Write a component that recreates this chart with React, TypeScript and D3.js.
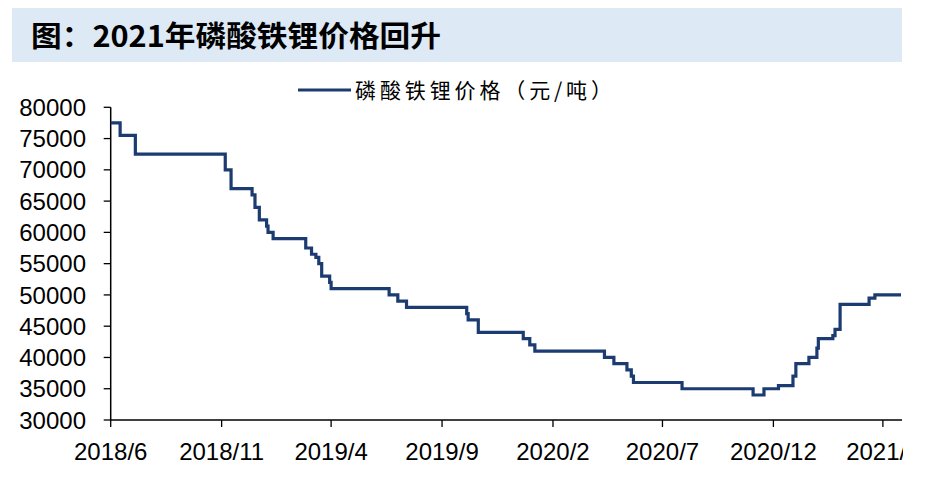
import React from "react";
import * as d3 from "d3";

const title = "图：2021年磷酸铁锂价格回升";
const seriesName = "磷酸铁锂价格（元/吨）";

const dates: string[] = [
  "2018-06-01", "2018-06-14", "2018-07-05", "2018-11-06", "2018-11-14",
  "2018-12-13", "2018-12-17", "2018-12-23", "2019-01-02", "2019-01-04",
  "2019-01-11", "2019-02-25", "2019-03-05", "2019-03-11", "2019-03-15",
  "2019-03-19", "2019-03-30", "2019-04-01", "2019-06-20", "2019-07-02",
  "2019-07-14", "2019-10-05", "2019-10-07", "2019-10-21", "2019-12-22",
  "2019-12-31", "2020-01-07", "2020-04-12", "2020-04-25", "2020-05-13",
  "2020-05-19", "2020-05-22", "2020-07-28", "2020-11-03", "2020-11-18",
  "2020-12-08", "2020-12-28", "2021-01-01", "2021-01-19", "2021-01-30",
  "2021-02-01", "2021-02-21", "2021-02-24", "2021-03-03", "2021-04-12",
  "2021-04-20", "2021-05-26",
];
const prices: number[] = [
  77500, 75500, 72500, 70000, 67000,
  66000, 64000, 62000, 61000, 60000,
  59000, 57500, 56500, 56000, 55000,
  53000, 52000, 51000, 50000, 49000,
  48000, 47000, 46000, 44000, 43000,
  42000, 41000, 40000, 39000, 38000,
  37000, 36000, 35000, 34000, 35000,
  35500, 37000, 39000, 40000, 41500,
  43000, 43500, 44500, 48500, 49500,
  50000, 50000,
];

const yTicks: number[] = [30000, 35000, 40000, 45000, 50000, 55000, 60000, 65000, 70000, 75000, 80000];
const xTickDates: string[] = ["2018-06-01", "2018-11-01", "2019-04-01", "2019-09-01", "2020-02-01", "2020-07-01", "2020-12-01", "2021-05-01"];
const xTickLabels: string[] = ["2018/6", "2018/11", "2019/4", "2019/9", "2020/2", "2020/7", "2020/12", "2021/5"];

const parse = d3.timeParse("%Y-%m-%d");

export default function App() {
  const W = 926, H = 494;
  const left = 110.7, right = 901, top = 107.3, bottom = 420;
  const x = d3.scaleTime()
    .domain([parse("2018-06-01") as Date, parse("2021-05-26") as Date])
    .range([left, right]);
  const y = d3.scaleLinear().domain([30000, 80000]).range([bottom, top]);
  const data = dates.map((d, i) => ({ d: parse(d) as Date, v: prices[i] }));
  const line = d3.line<{ d: Date; v: number }>()
    .x((p) => x(p.d))
    .y((p) => y(p.v))
    .curve(d3.curveStepAfter);
  const font = "'Liberation Sans', Arial, sans-serif";
  const cjk = "'Noto Sans CJK SC', sans-serif";
  const lineColor = "#1c3b70";

  return (
    <div style={{ position: "absolute", left: 0, top: 0 }}>
      <svg width={W} height={H} style={{ display: "block", background: "#fff" }}>
        <defs>
          <clipPath id="xclip">
            <rect x={0} y={0} width={903} height={H} />
          </clipPath>
        </defs>
        <rect x={12} y={8} width={890} height={54} fill="#dde9f5" />
        <text x={31} y={47} fontFamily={cjk} fontWeight={700} fontSize={29} fill="#000"
          textLength={410} lengthAdjust="spacingAndGlyphs">{title}</text>

        <line x1={298} x2={351} y1={90} y2={90} stroke={lineColor} strokeWidth={3} />
        <text x={355} y={97.5} fontFamily={cjk} fontSize={21} fill="#000"
          textLength={257} lengthAdjust="spacing">{seriesName}</text>

        {yTicks.map((t) => (
          <g key={t}>
            <line x1={left - 7} x2={left} y1={y(t)} y2={y(t)} stroke="#000" strokeWidth={1.3} />
            <text x={86} y={y(t)} dy="0.36em" textAnchor="end" fontFamily={font} fontSize={24} fill="#000">{t}</text>
          </g>
        ))}
        <line x1={left} x2={left} y1={top} y2={bottom} stroke="#000" strokeWidth={1.5} />
        <line x1={left} x2={right + 1} y1={bottom} y2={bottom} stroke="#000" strokeWidth={1.5} />
        <g clipPath="url(#xclip)">
          {xTickDates.map((d, i) => {
            const xx = x(parse(d) as Date);
            return (
              <g key={d}>
                <line x1={xx} x2={xx} y1={bottom} y2={bottom + 7} stroke="#000" strokeWidth={1.3} />
                <text x={xx} y={460} textAnchor="middle" fontFamily={font} fontSize={24} fill="#000">{xTickLabels[i]}</text>
              </g>
            );
          })}
        </g>
        <path d={line(data) || ""} fill="none" stroke={lineColor} strokeWidth={3.2} strokeLinejoin="miter" />
      </svg>
    </div>
  );
}
